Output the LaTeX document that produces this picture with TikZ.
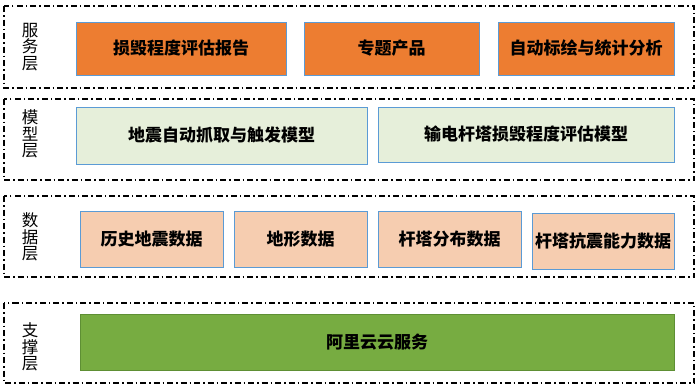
\documentclass[tikz,border=0pt]{standalone}
\usepackage{fontspec}
\setmainfont{Noto Sans CJK SC}
\definecolor{orangefill}{HTML}{ED7D31}
\definecolor{boxblue}{HTML}{5B9BD5}
\definecolor{modelfill}{HTML}{E6EFDA}
\definecolor{datafill}{HTML}{F6CDB0}
\definecolor{supfill}{HTML}{77AC41}
\definecolor{supdraw}{HTML}{5E8F34}
\begin{document}
\begin{tikzpicture}[x=1pt,y=-1pt,
  layerframe/.style={draw=black, line width=1.5pt, dash pattern=on 6pt off 3pt on 1.5pt off 3pt},
  layerlabel/.style={align=center, font=\fontsize{16.5}{16.5}\selectfont, inner sep=0pt},
  box/.style={draw=boxblue, line width=1pt, inner sep=0pt, font=\fontsize{17}{18}\selectfont\bfseries},
  svc/.style={box, fill=orangefill},
  mdl/.style={box, fill=modelfill},
  dat/.style={box, fill=datafill},
  sup/.style={box, fill=supfill, draw=supdraw}]
\useasboundingbox (0,0) rectangle (700,389);
% frames
\draw[layerframe] (4,6) rectangle (694,88);
\draw[layerframe] (4,99) rectangle (694,180);
\draw[layerframe] (4,196) rectangle (694,277);
\draw[layerframe] (4,303) rectangle (694,383);
% labels
\node[layerlabel] (lsvc) at (30,47) {服\\务\\层};
\node[layerlabel] (lmdl) at (30,134) {模\\型\\层};
\node[layerlabel] (ldat) at (30,237) {数\\据\\层};
\node[layerlabel] (lsup) at (30,347) {支\\撑\\层};
% service
\node[svc, minimum width=210pt, minimum height=53pt] (s1) at (181,48.5) {损毁程度评估报告};
\node[svc, minimum width=175pt, minimum height=53pt] (s2) at (391.5,48.5) {专题产品};
\node[svc, minimum width=176pt, minimum height=53pt] (s3) at (586,48.5) {自动标绘与统计分析};
% model
\node[mdl, minimum width=291pt, minimum height=57pt] (m1) at (221.5,135.5) {地震自动抓取与触发模型};
\node[mdl, minimum width=296pt, minimum height=55pt] (m2) at (526,134.5) {输电杆塔损毁程度评估模型};
% data
\node[dat, minimum width=143pt, minimum height=56pt] (d1) at (151.5,239) {历史地震数据};
\node[dat, minimum width=133pt, minimum height=56pt] (d2) at (300.5,239) {地形数据};
\node[dat, minimum width=143pt, minimum height=56pt] (d3) at (449.5,239) {杆塔分布数据};
\node[dat, minimum width=142pt, minimum height=56pt] (d4) at (603,241) {杆塔抗震能力数据};
% support
\node[sup, minimum width=594pt, minimum height=56pt] (p1) at (377,342) {阿里云云服务};
\end{tikzpicture}
\end{document}
